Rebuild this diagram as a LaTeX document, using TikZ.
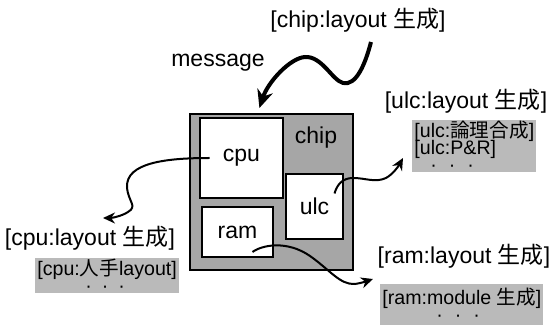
\documentclass[tikz,border=0pt]{standalone}
\usepackage{fontspec}
\setmainfont{Liberation Sans}
\newfontfamily\jp{Noto Sans CJK JP}
\usetikzlibrary{arrows.meta,calc}
\lineskiplimit=-6pt

\begin{document}
\begin{tikzpicture}[x=0.5pt,y=-0.5pt,
  lbl/.style={inner sep=1pt,font=\fontsize{11.5}{13}\selectfont},
  block/.style={draw,line width=0.9pt,fill=white,font=\fontsize{11.5}{13}\selectfont},
  subbox/.style={fill=black!27,anchor=north west,align=left,inner xsep=1pt,inner ysep=0pt,
    font=\fontsize{9.8}{8.5}\selectfont},
  msgarrow/.style={line width=2pt,-{Stealth[length=9pt,width=8pt]}},
  subarrow/.style={line width=1pt,-{Stealth[length=6pt,width=5.5pt]}}]
  \useasboundingbox (0,0) rectangle (551,325);

  % the chip and its three blocks
  \node[draw,line width=0.9pt,fill=black!35,minimum width=81.5pt,minimum height=78pt,
    anchor=north west,inner sep=0pt] (chipbox) at (189,113) {};
  \node[lbl] (chipname) at (316,138) {chip};
  \node[block,minimum width=41.5pt,minimum height=40pt] (cpu) at (241.5,158) {cpu};
  \node[block,minimum width=28.5pt,minimum height=32.5pt] (ulc) at (314.5,206.5) {ulc};
  \node[block,minimum width=35.5pt,minimum height=25pt] (ram) at (237.5,232) {ram};

  % messages
  \node[lbl] (chiplbl) at (358,20) {[chip:layout {\jp 生成}]};
  \node[lbl] (msg) at (218,63) {message};
  \node[lbl] (ulclbl) at (466,101) {[ulc:layout {\jp 生成}]};
  \node[lbl] (cpulbl) at (90,238) {[cpu:layout {\jp 生成}]};
  \node[lbl] (ramlbl) at (464,256) {[ram:layout {\jp 生成}]};

  % what each message turns into
  \node[subbox,minimum height=26pt] (ulcsub) at (412,120)
    {[ulc:{\jp 論理合成}]\\\relax[ulc:P\&R]\\\hspace*{8pt}·\hspace{6pt}·\hspace{6pt}·};
  \node[subbox,minimum height=17.5pt] (cpusub) at (35,258)
    {[cpu:{\jp 人手}layout]\\\hspace*{24pt}·\hspace{5pt}·\hspace{5pt}·};
  \node[subbox,minimum height=20.5pt] (ramsub) at (380,284)
    {[ram:module {\jp 生成}]\\\hspace*{27pt}·\hspace{6pt}·\hspace{6pt}·};

  % arrows
  \draw[msgarrow] ($(chiplbl)+(13,22)$) .. controls (365,65) and (356,86) .. (343,83)
    .. controls (332,80) and (322,56) .. (305,57)
    .. controls (290,58) and (268,82) .. ($(chipbox.north)+(-12,-5)$);
  \draw[subarrow] ($(cpu)+(-32,0)$) .. controls (165,158) and (126,163) .. (127,187)
    .. controls (128,202) and (138,206) .. (128,212)
    .. controls (122,216) and (112,218) .. ($(cpulbl)+(13,-20)$);
  \draw[subarrow] ($(ulc)+(20,-13)$) .. controls (337,185) and (342,178) .. (353,178)
    .. controls (366,178) and (375,183) .. (386,178)
    .. controls (393,174) and (398,167) .. ($(ulclbl)+(-63,57)$);
  \draw[subarrow] ($(ram)+(15,20)$) .. controls (262,245) and (287,240) .. (310,256)
    .. controls (330,270) and (340,285) .. (355,284)
    .. controls (362,283) and (367,281) .. ($(ramlbl)+(-91,23)$);
\end{tikzpicture}
\end{document}
